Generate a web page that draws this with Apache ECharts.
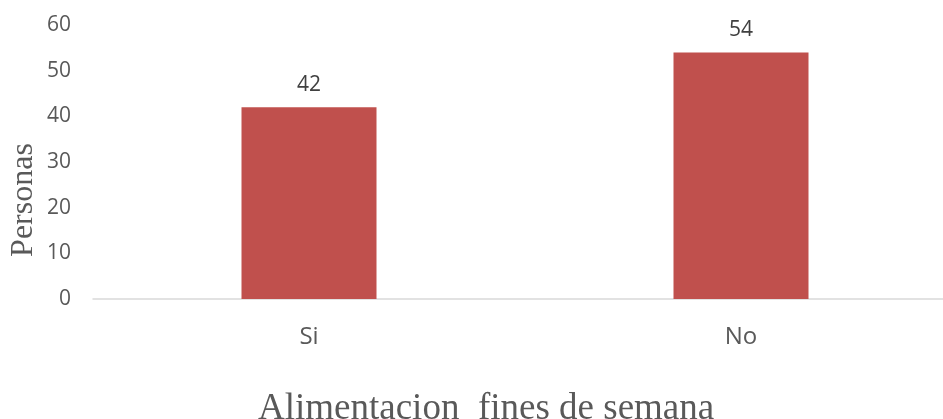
<!DOCTYPE html>
<html>
<head>
<meta charset="utf-8">
<script src="https://cdn.jsdelivr.net/npm/echarts@6/dist/echarts.min.js"></script>
<style>
  html, body { margin: 0; padding: 0; background: #fff; }
  #main { width: 943px; height: 419px; }
</style>
</head>
<body>
<div id="main"></div>
<script>
var categories = ['Si', 'No'];
var personas = [42, 54];
var yTicks = [0, 10, 20, 30, 40, 50, 60];

var chart = echarts.init(document.getElementById('main'));
var option = {
    animation: false,
    title: {
        text: 'Alimentacion  fines de semana',
        left: 253,
        top: 386,
        textStyle: {
            fontFamily: 'Liberation Serif',
            fontWeight: 'normal',
            fontSize: 37,
            color: '#595959'
        }
    },
    graphic: [{
        type: 'text',
        x: 24,
        y: 200,
        rotation: Math.PI / 2,
        style: {
            text: 'Personas',
            fontFamily: 'Liberation Serif',
            fontSize: 32,
            fill: '#595959',
            textAlign: 'center',
            textVerticalAlign: 'middle'
        }
    }],
    grid: {
        left: 93,
        top: 25,
        width: 864,
        height: 274,
        outerBoundsMode: 'none'
    },
    xAxis: {
        type: 'category',
        data: categories,
        axisLine: { lineStyle: { color: '#d9d9d9', width: 1.5 } },
        axisTick: { show: false },
        axisLabel: {
            margin: 26,
            fontFamily: 'Open Sans',
            fontSize: 24,
            color: '#595959'
        }
    },
    yAxis: {
        type: 'value',
        min: yTicks[0],
        max: yTicks[yTicks.length - 1],
        interval: 10,
        splitLine: { show: false },
        axisLine: { show: false },
        axisTick: { show: false },
        axisLabel: {
            margin: 22,
            fontFamily: 'Open Sans',
            fontSize: 21,
            color: '#595959'
        }
    },
    series: [{
        type: 'bar',
        data: personas,
        barWidth: 135,
        itemStyle: { color: '#C0504D' },
        label: {
            show: true,
            position: 'top',
            distance: 12,
            fontFamily: 'Open Sans',
            fontSize: 21,
            color: '#404040'
        }
    }]
};
chart.setOption(option);
</script>
</body>
</html>
